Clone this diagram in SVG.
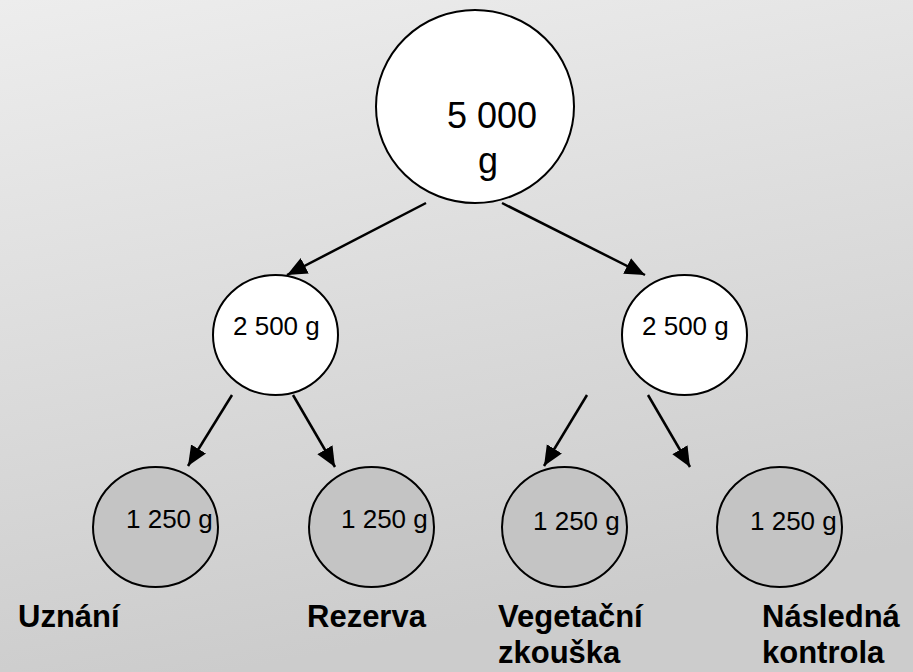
<svg xmlns="http://www.w3.org/2000/svg" width="913" height="672" viewBox="0 0 913 672">
<defs>
<linearGradient id="bg" x1="0" y1="0" x2="0.25" y2="1">
<stop offset="0" stop-color="#ededed"/>
<stop offset="1" stop-color="#cccccc"/>
</linearGradient>
<marker id="ah" markerUnits="userSpaceOnUse" markerWidth="20" markerHeight="20" viewBox="0 0 16 14" refX="16" refY="7" orient="auto">
<path d="M0,0 L16,7 L0,14 Z" fill="#000"/>
</marker>
</defs>
<style>
.top{fill:#fff;stroke:#000;stroke-width:2}
.mid{fill:#fff;stroke:#000;stroke-width:2}
.leaf{fill:#c4c4c4;stroke:#000;stroke-width:2}
.t{font-family:"Liberation Sans",Arial,sans-serif;fill:#000}
.lbl{font-family:"Liberation Sans",Arial,sans-serif;font-weight:bold;font-size:31px;fill:#000}
.c{stroke:#000;stroke-width:2.5;fill:none;marker-end:url(#ah)}
</style>
<rect x="0" y="0" width="913" height="672" fill="url(#bg)"/>
<g id="connectors">
<line class="c" x1="426" y1="203" x2="287" y2="275"/>
<line class="c" x1="502" y1="203" x2="645" y2="275"/>
<line class="c" x1="232" y1="395" x2="188" y2="466"/>
<line class="c" x1="293" y1="395" x2="335" y2="467"/>
<line class="c" x1="587" y1="395" x2="544" y2="466"/>
<line class="c" x1="648" y1="395" x2="690" y2="467"/>
</g>
<g id="root">
<ellipse class="top" cx="475" cy="106.5" rx="99" ry="96.5"/>
<text class="t" x="447" y="128" font-size="36">5 000</text>
<text class="t" x="478" y="173" font-size="36">g</text>
</g>
<g id="mid-left">
<ellipse class="mid" cx="275.5" cy="335" rx="62.5" ry="60"/>
<text class="t" x="233" y="335" font-size="26">2 500 g</text>
</g>
<g id="mid-right">
<ellipse class="mid" cx="684.5" cy="335" rx="62.5" ry="60"/>
<text class="t" x="642" y="335" font-size="26">2 500 g</text>
</g>
<g id="leaf-uznani">
<ellipse class="leaf" cx="155.5" cy="527" rx="62.5" ry="60"/>
<text class="t" x="126" y="528" font-size="26">1 250 g</text>
<text class="lbl" x="18" y="627">Uznání</text>
</g>
<g id="leaf-rezerva">
<ellipse class="leaf" cx="371.5" cy="527" rx="62.5" ry="60"/>
<text class="t" x="341" y="528" font-size="26">1 250 g</text>
<text class="lbl" x="307" y="627">Rezerva</text>
</g>
<g id="leaf-vegetacni">
<ellipse class="leaf" cx="564.5" cy="527" rx="62.5" ry="60"/>
<text class="t" x="533" y="530" font-size="26">1 250 g</text>
<text class="lbl" x="498" y="627">Vegetační</text>
<text class="lbl" x="498" y="663">zkouška</text>
</g>
<g id="leaf-nasledna">
<ellipse class="leaf" cx="779.5" cy="527" rx="62.5" ry="60"/>
<text class="t" x="750" y="530" font-size="26">1 250 g</text>
<text class="lbl" x="762" y="627">Následná</text>
<text class="lbl" x="762" y="663">kontrola</text>
</g>
</svg>
